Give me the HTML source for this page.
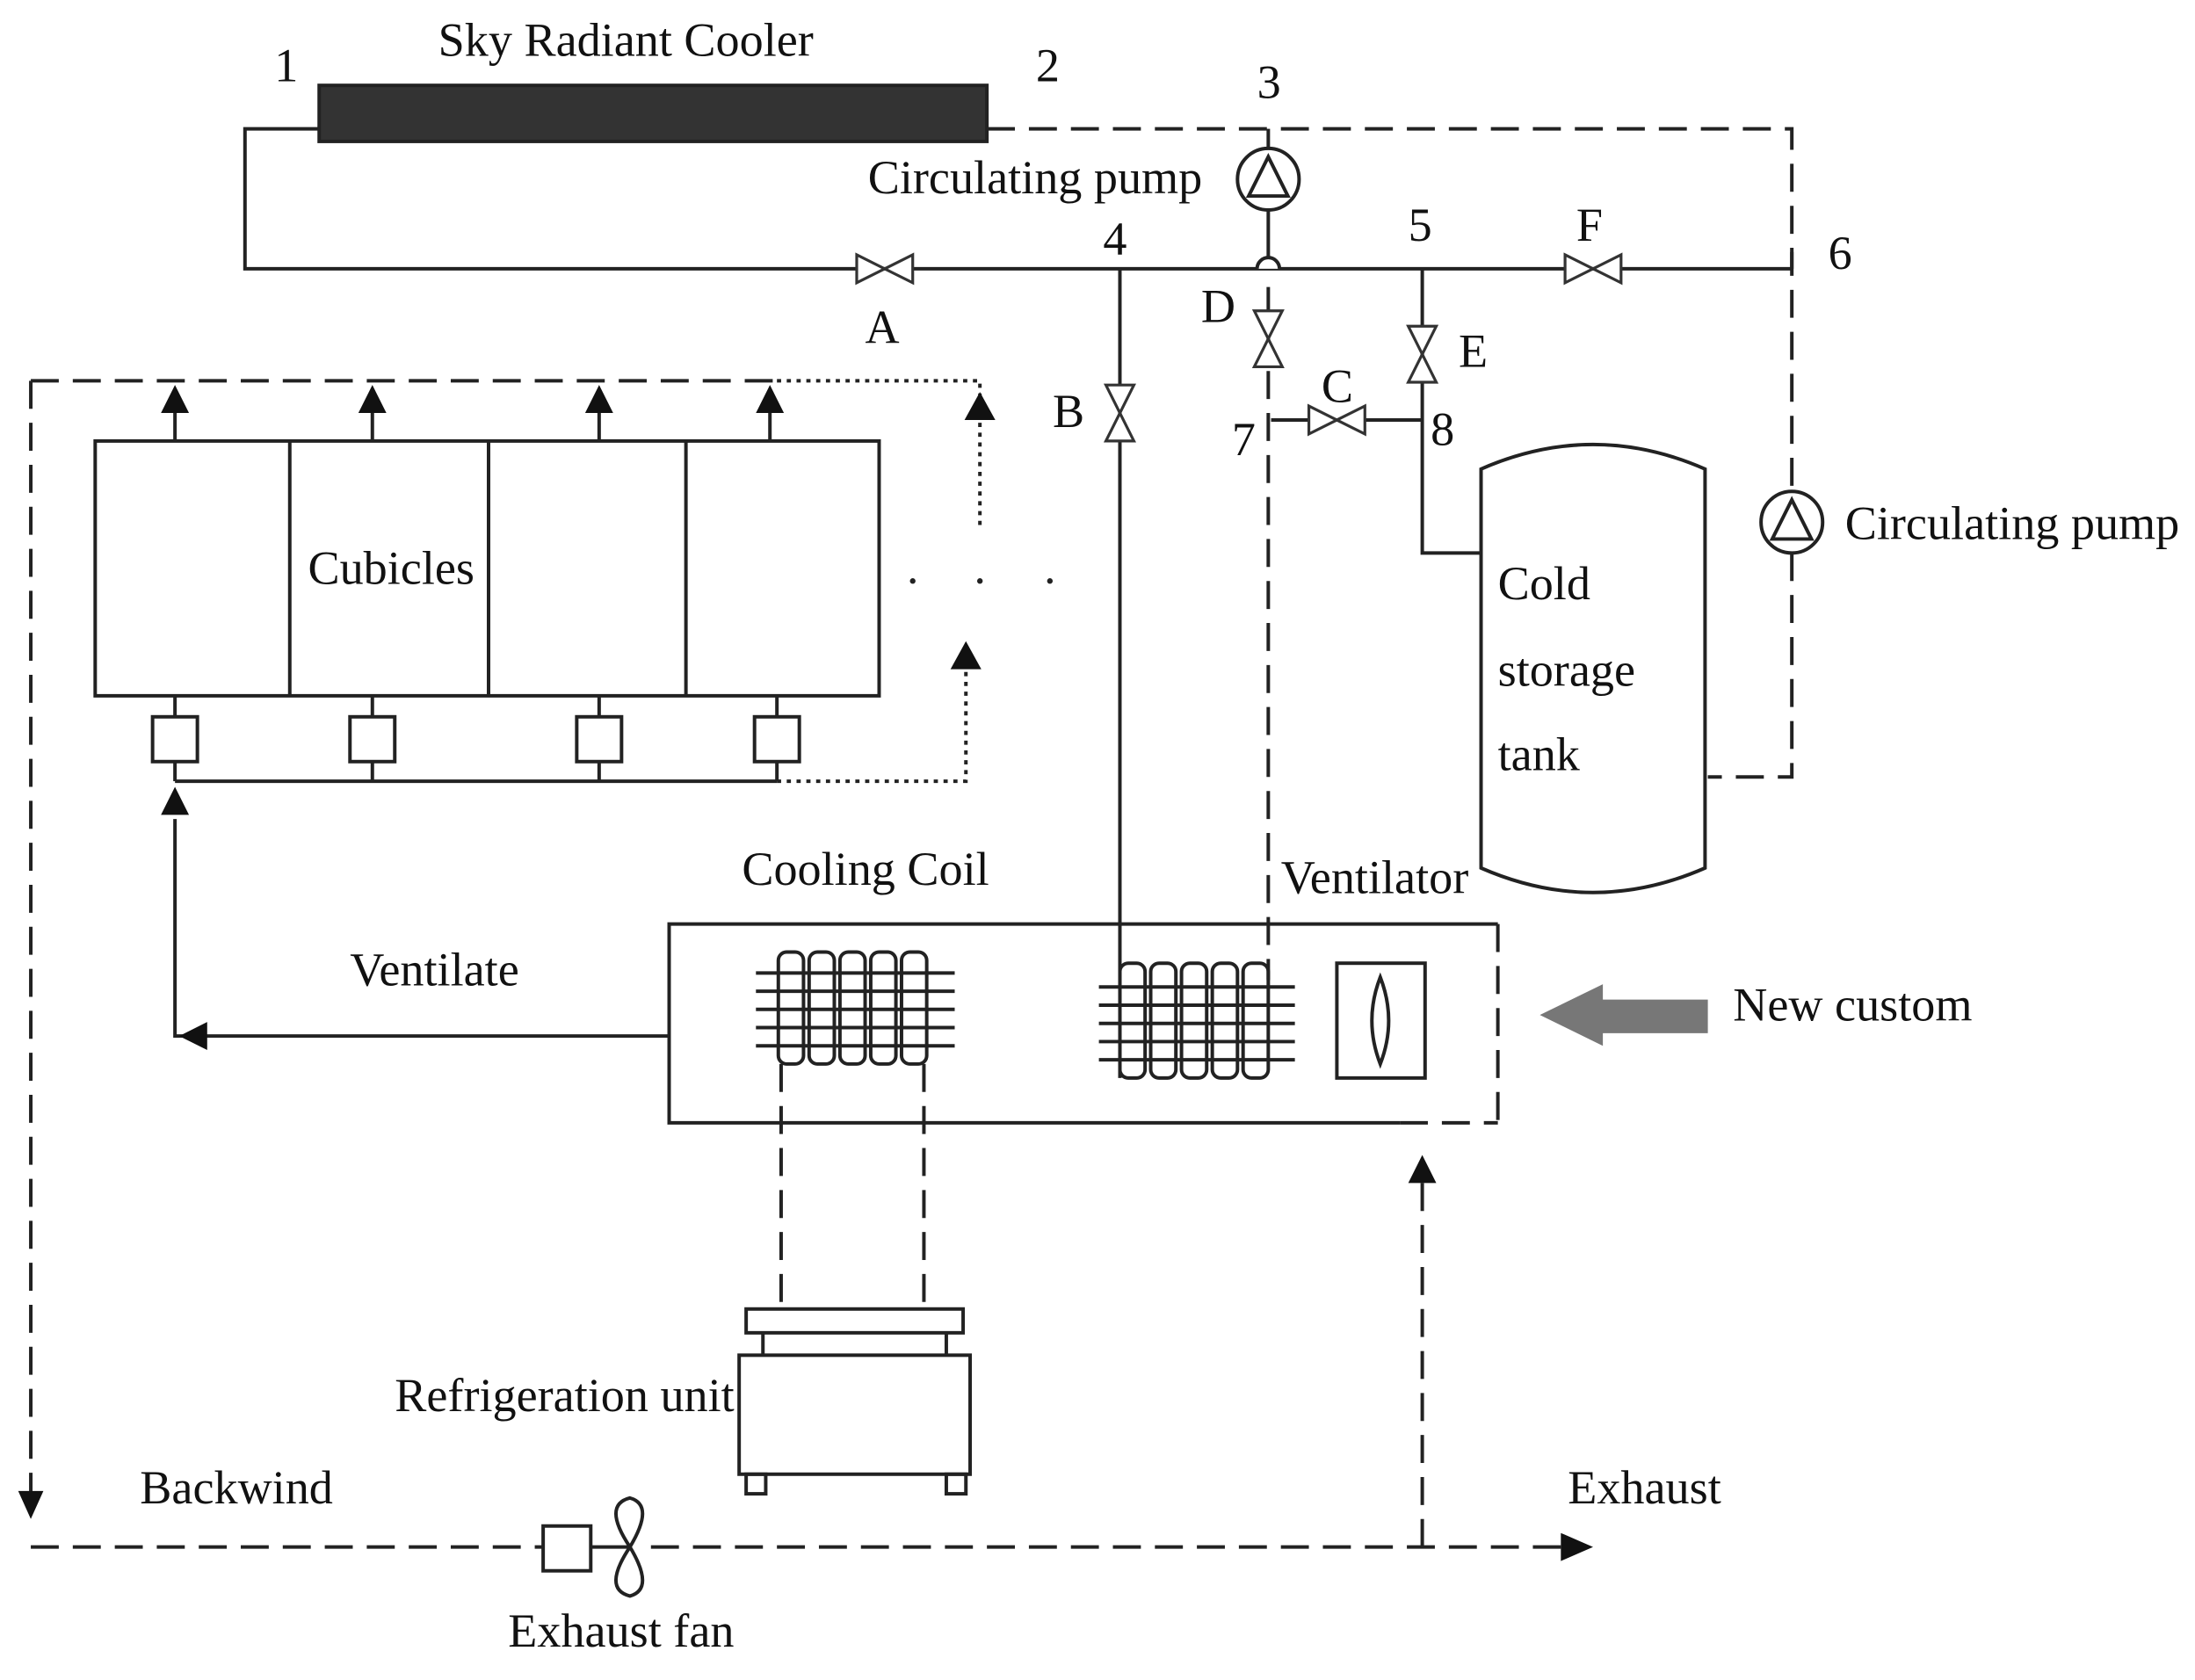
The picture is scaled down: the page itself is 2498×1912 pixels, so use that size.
<!DOCTYPE html>
<html><head><meta charset="utf-8"><style>
html,body{margin:0;padding:0;background:#fff;}
svg{display:block;}
text{font-family:"Liberation Serif",serif;font-size:34px;fill:#111;}
</style></head><body>
<svg width="2498" height="1912" viewBox="0 0 1568 1200" preserveAspectRatio="none" xmlns="http://www.w3.org/2000/svg">
<g stroke="#222" stroke-width="2.5" fill="none">
<rect x="228" y="61" width="477" height="40" fill="#333"/>
<polyline points="228,92 175,92 175,192 1280,192"/>
<line x1="1280" y1="180" x2="1280" y2="192"/>
<g stroke-dasharray="20,10">
<polyline points="705,92 1280,92 1280,355"/>
<polyline points="1280,395 1280,555 1220,555"/>
<line x1="906" y1="92" x2="906" y2="106"/>
<line x1="906" y1="205" x2="906" y2="700"/>
</g>
<circle cx="906" cy="128" r="22" fill="#fff"/>
<path d="M892,140 L906,112 L920,140z"/>
<line x1="906" y1="150" x2="906" y2="185"/>
<path d="M898,192 A8,8 0 0 1 914,192" fill="#fff"/>
<circle cx="1280" cy="373" r="22" fill="#fff"/>
<path d="M1266,385 L1280,357 L1294,385z"/>
<line x1="800" y1="192" x2="800" y2="770"/>
<polyline points="1016,192 1016,395 1060,395"/>
<line x1="908" y1="300" x2="1016" y2="300"/>
<path d="M1058,335 Q1138,300 1218,335 L1218,620 Q1138,655 1058,620 Z" fill="#fff"/>
<rect x="68" y="315" width="560" height="182"/>
<line x1="207" y1="315" x2="207" y2="497"/>
<line x1="349" y1="315" x2="349" y2="497"/>
<line x1="490" y1="315" x2="490" y2="497"/>
<line x1="125" y1="315" x2="125" y2="290"/>
<line x1="266" y1="315" x2="266" y2="290"/>
<line x1="428" y1="315" x2="428" y2="290"/>
<line x1="550" y1="315" x2="550" y2="290"/>
<rect x="109" y="512" width="32" height="32" fill="#fff"/>
<rect x="250" y="512" width="32" height="32" fill="#fff"/>
<rect x="412" y="512" width="32" height="32" fill="#fff"/>
<rect x="539" y="512" width="32" height="32" fill="#fff"/>
<line x1="125" y1="497" x2="125" y2="512"/><line x1="266" y1="497" x2="266" y2="512"/>
<line x1="428" y1="497" x2="428" y2="512"/><line x1="555" y1="497" x2="555" y2="512"/>
<line x1="125" y1="544" x2="125" y2="558"/><line x1="266" y1="544" x2="266" y2="558"/>
<line x1="428" y1="544" x2="428" y2="558"/><line x1="555" y1="544" x2="555" y2="558"/>
<line x1="125" y1="558" x2="555" y2="558"/>
<g stroke-dasharray="3,4">
<polyline points="555,558 690,558 690,475"/>
<polyline points="555,272 700,272 700,375"/>
</g>
<polyline points="478,740 125,740 125,585"/>
<polyline points="1070,660 478,660 478,802 1000,802"/>
<g stroke-dasharray="20,10">
<line x1="1000" y1="802" x2="1070" y2="802"/>
<line x1="1070" y1="660" x2="1070" y2="802"/>
<polyline points="22,272 555,272"/>
<line x1="22" y1="272" x2="22" y2="1075"/>
<polyline points="22,1105 388,1105"/>
<line x1="465" y1="1105" x2="1120" y2="1105"/>
<line x1="1016" y1="1105" x2="1016" y2="845"/>
<line x1="558" y1="760" x2="558" y2="935"/>
<line x1="660" y1="760" x2="660" y2="935"/>
</g>
<g>
<rect x="556" y="680" width="18" height="80" rx="6"/><rect x="578" y="680" width="18" height="80" rx="6"/>
<rect x="600" y="680" width="18" height="80" rx="6"/><rect x="622" y="680" width="18" height="80" rx="6"/>
<rect x="644" y="680" width="18" height="80" rx="6"/>
<line x1="540" y1="695" x2="682" y2="695"/><line x1="540" y1="708" x2="682" y2="708"/>
<line x1="540" y1="721" x2="682" y2="721"/><line x1="540" y1="734" x2="682" y2="734"/>
<line x1="540" y1="747" x2="682" y2="747"/>
</g>
<g>
<rect x="800" y="688" width="18" height="82" rx="6"/><rect x="822" y="688" width="18" height="82" rx="6"/>
<rect x="844" y="688" width="18" height="82" rx="6"/><rect x="866" y="688" width="18" height="82" rx="6"/>
<rect x="888" y="688" width="18" height="82" rx="6"/>
<line x1="785" y1="705" x2="925" y2="705"/><line x1="785" y1="718" x2="925" y2="718"/>
<line x1="785" y1="731" x2="925" y2="731"/><line x1="785" y1="744" x2="925" y2="744"/>
<line x1="785" y1="757" x2="925" y2="757"/>
</g>
<rect x="955" y="688" width="63" height="82"/>
<path d="M986,698 Q998,729 986,760 Q974,729 986,698z"/>
<rect x="533" y="935" width="155" height="17"/>
<line x1="545" y1="952" x2="545" y2="968"/><line x1="676" y1="952" x2="676" y2="968"/>
<rect x="528" y="968" width="165" height="85"/>
<rect x="533" y="1053" width="14" height="14"/><rect x="676" y="1053" width="14" height="14"/>
<rect x="388" y="1090" width="34" height="32" fill="#fff"/>
<line x1="422" y1="1105" x2="450" y2="1105"/>
<path d="M450,1105 Q430,1075 450,1070 Q468,1075 450,1105 Q430,1135 450,1140 Q468,1135 450,1105z"/>
</g>
<g stroke="#333" stroke-width="2" fill="#fff">
<path d="M612,182 L652,202 L652,182 L612,202z"/>
<path d="M1118,182 L1158,202 L1158,182 L1118,202z"/>
<path d="M935,290 L975,310 L975,290 L935,310z"/>
<path d="M790,275 L810,315 L790,315 L810,275z"/>
<path d="M896,222 L916,262 L896,262 L916,222z"/>
<path d="M1006,233 L1026,273 L1006,273 L1026,233z"/>
</g>
<g fill="#111">
<path d="M125,275 L115,295 L135,295z"/>
<path d="M266,275 L256,295 L276,295z"/>
<path d="M428,275 L418,295 L438,295z"/>
<path d="M550,275 L540,295 L560,295z"/>
<path d="M125,562 L115,582 L135,582z"/>
<path d="M128,740 L148,730 L148,750z"/>
<path d="M700,280 L689,300 L711,300z"/>
<path d="M690,458 L679,478 L701,478z"/>
<path d="M22,1085 L13,1065 L31,1065z"/>
<path d="M1138,1105 L1115,1095 L1115,1115z"/>
<path d="M1016,825 L1006,845 L1026,845z"/>
<path d="M1100,725 L1145,703 L1145,714 L1220,714 L1220,738 L1145,738 L1145,747z" fill="#777"/>
</g>
<g fill="#222"><circle cx="652" cy="415" r="2"/><circle cx="700" cy="415" r="2"/><circle cx="750" cy="415" r="2"/></g>
<text x="313" y="40">Sky Radiant Cooler</text>
<text x="196" y="58">1</text><text x="740" y="58">2</text><text x="898" y="70">3</text>
<text x="788" y="182">4</text><text x="1006" y="172">5</text><text x="1306" y="192">6</text>
<text x="880" y="325">7</text><text x="1022" y="318">8</text>
<text x="620" y="138">Circulating pump</text>
<text x="618" y="245">A</text><text x="752" y="305">B</text><text x="944" y="287">C</text>
<text x="858" y="230">D</text><text x="1042" y="262">E</text><text x="1126" y="172">F</text>
<text x="1318" y="385">Circulating pump</text>
<text x="1070" y="428">Cold</text><text x="1070" y="490">storage</text><text x="1070" y="550">tank</text>
<text x="220" y="417">Cubicles</text>
<text x="530" y="632">Cooling Coil</text>
<text x="915" y="638">Ventilator</text>
<text x="250" y="704">Ventilate</text>
<text x="1238" y="729">New custom</text>
<text x="282" y="1008">Refrigeration unit</text>
<text x="100" y="1074">Backwind</text>
<text x="1120" y="1074">Exhaust</text>
<text x="363" y="1176">Exhaust fan</text>
</svg>
</body></html>
